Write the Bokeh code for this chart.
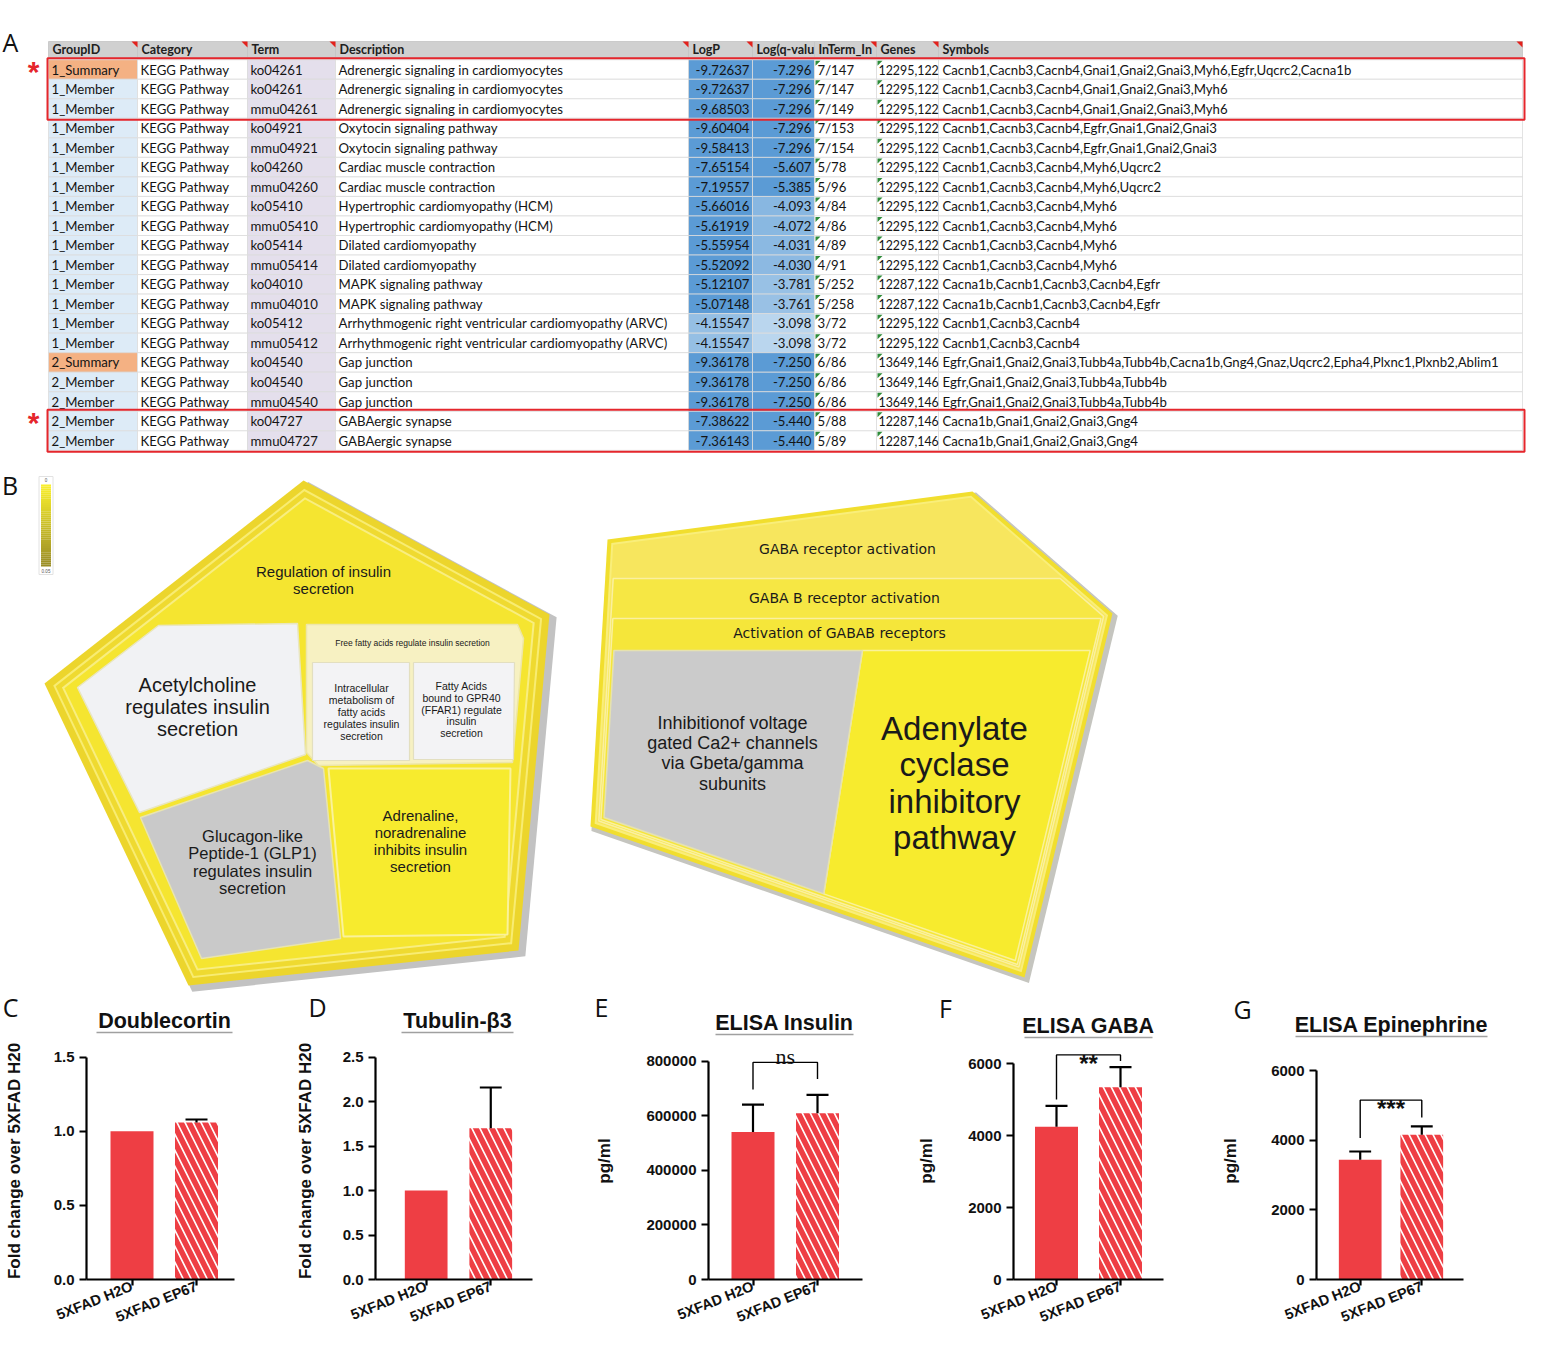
import numpy as np
from bokeh.plotting import figure
from bokeh.models import Range1d, FixedTicker, NumeralTickFormatter
from bokeh.layouts import column, row
from bokeh.embed import file_html
from bokeh.resources import INLINE
from bokeh.core.properties import value

# ======================= DATA =======================
# Panel A - enrichment table
header_labels = ["GroupID", "Category", "Term", "Description", "LogP", "Log(q-valu",
                 "InTerm_In", "Genes", "Symbols"]
group_ids = ["1_Summary"] + ["1_Member"] * 14 + ["2_Summary"] + ["2_Member"] * 4
categories = ["KEGG Pathway"] * 20
terms = ["ko04261", "ko04261", "mmu04261", "ko04921", "mmu04921", "ko04260", "mmu04260",
         "ko05410", "mmu05410", "ko05414", "mmu05414", "ko04010", "mmu04010", "ko05412",
         "mmu05412", "ko04540", "ko04540", "mmu04540", "ko04727", "mmu04727"]
descriptions = (["Adrenergic signaling in cardiomyocytes"] * 3 + ["Oxytocin signaling pathway"] * 2 +
                ["Cardiac muscle contraction"] * 2 + ["Hypertrophic cardiomyopathy (HCM)"] * 2 +
                ["Dilated cardiomyopathy"] * 2 + ["MAPK signaling pathway"] * 2 +
                ["Arrhythmogenic right ventricular cardiomyopathy (ARVC)"] * 2 +
                ["Gap junction"] * 3 + ["GABAergic synapse"] * 2)
log_p = [-9.72637, -9.72637, -9.68503, -9.60404, -9.58413, -7.65154, -7.19557, -5.66016,
         -5.61919, -5.55954, -5.52092, -5.12107, -5.07148, -4.15547, -4.15547, -9.36178,
         -9.36178, -9.36178, -7.38622, -7.36143]
log_q = [-7.296, -7.296, -7.296, -7.296, -7.296, -5.607, -5.385, -4.093, -4.072, -4.031,
         -4.030, -3.781, -3.761, -3.098, -3.098, -7.250, -7.250, -7.250, -5.440, -5.440]
in_term = ["7/147", "7/147", "7/149", "7/153", "7/154", "5/78", "5/96", "4/84", "4/86", "4/89",
           "4/91", "5/252", "5/258", "3/72", "3/72", "6/86", "6/86", "6/86", "5/88", "5/89"]
genes = (["12295,122"] * 11 + ["12287,122"] * 2 + ["12295,122"] * 2 +
         ["13649,146"] * 3 + ["12287,146"] * 2)
symbols = ["Cacnb1,Cacnb3,Cacnb4,Gnai1,Gnai2,Gnai3,Myh6,Egfr,Uqcrc2,Cacna1b",
           "Cacnb1,Cacnb3,Cacnb4,Gnai1,Gnai2,Gnai3,Myh6",
           "Cacnb1,Cacnb3,Cacnb4,Gnai1,Gnai2,Gnai3,Myh6",
           "Cacnb1,Cacnb3,Cacnb4,Egfr,Gnai1,Gnai2,Gnai3",
           "Cacnb1,Cacnb3,Cacnb4,Egfr,Gnai1,Gnai2,Gnai3",
           "Cacnb1,Cacnb3,Cacnb4,Myh6,Uqcrc2",
           "Cacnb1,Cacnb3,Cacnb4,Myh6,Uqcrc2",
           "Cacnb1,Cacnb3,Cacnb4,Myh6",
           "Cacnb1,Cacnb3,Cacnb4,Myh6",
           "Cacnb1,Cacnb3,Cacnb4,Myh6",
           "Cacnb1,Cacnb3,Cacnb4,Myh6",
           "Cacna1b,Cacnb1,Cacnb3,Cacnb4,Egfr",
           "Cacna1b,Cacnb1,Cacnb3,Cacnb4,Egfr",
           "Cacnb1,Cacnb3,Cacnb4",
           "Cacnb1,Cacnb3,Cacnb4",
           "Egfr,Gnai1,Gnai2,Gnai3,Tubb4a,Tubb4b,Cacna1b,Gng4,Gnaz,Uqcrc2,Epha4,Plxnc1,Plxnb2,Ablim1",
           "Egfr,Gnai1,Gnai2,Gnai3,Tubb4a,Tubb4b",
           "Egfr,Gnai1,Gnai2,Gnai3,Tubb4a,Tubb4b",
           "Cacna1b,Gnai1,Gnai2,Gnai3,Gng4",
           "Cacna1b,Gnai1,Gnai2,Gnai3,Gng4"]
highlight_groups = [(0, 2), (18, 19)]

# Panel B - Voronoi pathway map labels
colorbar_labels = ["0", "0.05"]
left_labels = {
    "parent": ["Regulation of insulin", "secretion"],
    "ach": ["Acetylcholine", "regulates insulin", "secretion"],
    "ffa": ["Free fatty acids regulate insulin secretion"],
    "intra": ["Intracellular", "metabolism of", "fatty acids", "regulates insulin", "secretion"],
    "gpr40": ["Fatty Acids", "bound to GPR40", "(FFAR1) regulate", "insulin", "secretion"],
    "glp1": ["Glucagon-like", "Peptide-1 (GLP1)", "regulates insulin", "secretion"],
    "adr": ["Adrenaline,", "noradrenaline", "inhibits insulin", "secretion"],
}
right_labels = {
    "gaba": ["GABA receptor activation"],
    "gabab": ["GABA B receptor activation"],
    "gababr": ["Activation of GABAB receptors"],
    "ca": ["Inhibitionof voltage", "gated Ca2+ channels", "via Gbeta/gamma", "subunits"],
    "ac": ["Adenylate", "cyclase", "inhibitory", "pathway"],
}

# Panels C-G - bar charts (mean, SD)
panel_letters = ["C", "D", "E", "F", "G"]
panel_titles = ["Doublecortin", "Tubulin-\u03b23", "ELISA Insulin", "ELISA GABA",
                "ELISA Epinephrine"]
groups = ["5XFAD H2O", "5XFAD EP67"]
dcx_mean = [1.00, 1.06]
dcx_sd = [0.0, 0.02]
tubb3_mean = [1.00, 1.70]
tubb3_sd = [0.0, 0.46]
insulin_mean = [540000, 609000]
insulin_sd = [100000, 67000]
gaba_mean = [4250, 5350]
gaba_sd = [580, 560]
epi_mean = [3440, 4160]
epi_sd = [235, 235]
# significance brackets: label, left leg end, bracket level, right leg end
insulin_sig = ("ns", 696000, 795000, 734000)
gaba_sig = ("**", 5010, 6250, 6080)
epi_sig = ("***", 4060, 5150, 4650)

# ======================= TOP FIGURE (A, B and headers of C-G) =======================
PAGE_W = 1526
PAGE_H = 1335
TOP_H = 1042
top = figure(width=PAGE_W, height=TOP_H, x_range=Range1d(0, PAGE_W),
             y_range=Range1d(TOP_H, 0), output_backend="svg", toolbar_location=None,
             min_border=0, x_axis_location=None, y_axis_location=None, title=None)
top.outline_line_color = None
top.background_fill_color = "white"
top.border_fill_color = "white"
top.grid.visible = False
top.xgrid.visible = False
top.ygrid.visible = False

TXT = "#141414"


def put_text(x, y, txt, size, font="Lato", align="left", color=TXT, style="normal",
             baseline="middle"):
    top.text(x=x, y=y, text=txt, text_font=value(font), text_font_size=f"{size}px",
             text_align=align, text_baseline=baseline, text_color=color, text_font_style=style)


def hex2rgb(h):
    h = h.lstrip("#")
    return np.array([int(h[i:i + 2], 16) for i in (0, 2, 4)], float)


def mix(c1, c2, t):
    c = hex2rgb(c1) * (1 - t) + hex2rgb(c2) * t
    return "#%02x%02x%02x" % tuple(int(round(v)) for v in c)


def blue_shade(v, dark_at, light_at):
    t = float(np.clip((v - dark_at) / (light_at - dark_at), 0, 1))
    return mix("#5B9BD5", "#C9DFF2", t)


# ---- Panel A: table ----
COL_EDGES = [48, 137, 247, 335, 688, 752, 814, 876, 938, 1522]
ROW0_Y, ROW_PITCH = 69.0, 19.53
HEADER_Y, HEADER_H = 49.0, 16.0
FS = 13.2
n_rows = len(group_ids)
row_y = [ROW0_Y + i * ROW_PITCH for i in range(n_rows)]


def cell_color(i, c):
    if c == 0:
        return "#F4B183" if "Summary" in group_ids[i] else "#DDEBF7"
    if c == 2:
        return "#E4DFEC"
    if c == 4:
        return blue_shade(log_p[i], -5.0, -3.4)
    if c == 5:
        return blue_shade(log_q[i], -5.0, -2.8)
    return "#FFFFFF"


cx, cy, cw, ccol = [], [], [], []
for i in range(n_rows):
    for c in range(9):
        l, r = COL_EDGES[c], COL_EDGES[c + 1]
        cx.append((l + r) / 2)
        cy.append(row_y[i])
        cw.append(r - l)
        ccol.append(cell_color(i, c))
top.rect(x=cx, y=cy, width=cw, height=ROW_PITCH, fill_color=ccol, line_color="#DCDCDC",
         line_width=0.8)

# header
hx = [(COL_EDGES[c] + COL_EDGES[c + 1]) / 2 for c in range(9)]
hw = [COL_EDGES[c + 1] - COL_EDGES[c] for c in range(9)]
top.rect(x=hx, y=[HEADER_Y] * 9, width=hw, height=HEADER_H, fill_color="#D0D0D0",
         line_color="#C4C4C4", line_width=0.8)
put_text([COL_EDGES[c] + 4 for c in range(9)], [HEADER_Y] * 9, header_labels, 12.5,
         style="bold", color="#202020")

# header comment markers (red) and number-as-text markers (green)
marker_edges = [137, 247, 335, 688, 752, 876, 938, 1522]
hy0 = HEADER_Y - HEADER_H / 2
top.patches([[e - 6, e, e] for e in marker_edges], [[hy0, hy0, hy0 + 6]] * len(marker_edges),
            fill_color="#E3211C", line_color=None)
gx, gy = [], []
for i in range(n_rows):
    yt = row_y[i] - ROW_PITCH / 2
    for e in (814, 876):
        gx.append([e + 1, e + 6, e + 1])
        gy.append([yt + 1, yt + 1, yt + 6])
top.patches(gx, gy, fill_color="#2E8B3A", line_color=None)

# cell texts
col_texts = [group_ids, categories, terms, descriptions, [f"{v:.5f}" for v in log_p],
             [f"{v:.3f}" for v in log_q], in_term, genes, symbols]
for c, texts in enumerate(col_texts):
    if c in (4, 5):
        put_text([COL_EDGES[c + 1] - 3] * n_rows, row_y, texts, FS, align="right")
    elif c == 7:
        put_text([COL_EDGES[c] + 2] * n_rows, row_y, texts, 12.4)
    else:
        off = 4 if c == 8 else 3
        put_text([COL_EDGES[c] + off] * n_rows, row_y, texts, FS)

# red highlight boxes and asterisks
for (r0, r1) in highlight_groups:
    yt = row_y[r0] - ROW_PITCH / 2 - 1.5
    yb = row_y[r1] + ROW_PITCH / 2 + 1.5
    top.quad(left=47, right=1524, top=yt, bottom=yb, fill_color=None, line_color="#E5262C",
             line_width=2)
    put_text([33], [row_y[r0] + 1.5], ["*"], 30, font="Liberation Sans", align="center",
             color="#E5262C", style="bold")

put_text([10], [41], ["A"], 25, font="Open Sans", align="center", color="#111")
put_text([9.5], [484], ["B"], 25, font="Open Sans", align="center", color="#111")

# ---- Panel B: colour bar ----
CB_L, CB_R, CB_T, CB_B = 40.5, 50.5, 484, 566
n_cb = 40
edges = np.linspace(CB_T, CB_B, n_cb + 1)
top.quad(left=CB_L, right=CB_R, top=edges[:-1], bottom=edges[1:],
         fill_color=[mix("#F9EF2C", "#9A8C26", k / (n_cb - 1)) for k in range(n_cb)],
         line_color=None)
top.quad(left=38.5, right=52.5, top=476, bottom=574, fill_color=None, line_color="#E2E2E2",
         line_width=1)
put_text([45.5, 45.5], [479.5, 570.5], colorbar_labels, 4.5, font="Liberation Sans",
         align="center", color="#555")


# ---- Panel B: Voronoi pathway maps ----
def poly_inset(pts, d):
    pts = np.asarray(pts, float)
    n = len(pts)
    cen = pts.mean(axis=0)
    lines = []
    for i in range(n):
        p, q = pts[i], pts[(i + 1) % n]
        dv = q - p
        L = np.hypot(*dv)
        nv = np.array([-dv[1], dv[0]]) / L
        if np.dot(cen - (p + q) / 2, nv) < 0:
            nv = -nv
        lines.append((p + d * nv, dv))
    out = []
    for i in range(n):
        p1, d1 = lines[i - 1]
        p2, d2 = lines[i]
        A = np.array([[d1[0], -d2[0]], [d1[1], -d2[1]]])
        t, _ = np.linalg.solve(A, p2 - p1)
        out.append(tuple(p1 + t * d1))
    return out


def clip_half(pts, a, b, c):
    out = []
    n = len(pts)
    for i in range(n):
        P, Q = pts[i], pts[(i + 1) % n]
        fp = a * P[0] + b * P[1] + c
        fq = a * Q[0] + b * Q[1] + c
        if fp >= 0:
            out.append(P)
        if (fp >= 0) != (fq >= 0):
            t = fp / (fp - fq)
            out.append((P[0] + t * (Q[0] - P[0]), P[1] + t * (Q[1] - P[1])))
    return out


def shift(pts, dx, dy):
    return [(x + dx, y + dy) for x, y in pts]


def draw_poly(pts, fill, line=None, lw=1.0):
    top.patch([p[0] for p in pts], [p[1] for p in pts], fill_color=fill, line_color=line,
              line_width=lw)


def draw_lines(lines, x, ys, size, font="Liberation Sans"):
    put_text([x] * len(lines), ys, lines, size, font=font, align="center", color="#1A1A1A")


# left pentagon (Regulation of insulin secretion)
PENT = [(303, 480), (549, 614), (518, 950), (188, 985), (44, 683)]
draw_poly(shift(poly_inset(PENT, -2), 5, 4), "#C2C2C2")
draw_poly(PENT, "#ECD52C")
draw_poly(poly_inset(PENT, 7), "#F8EC72")
draw_poly(poly_inset(PENT, 9), "#EFDA30")
draw_poly(poly_inset(PENT, 14), "#F8EE80")
draw_poly(poly_inset(PENT, 16), "#F5E530")

ACH = [(77, 687), (158, 625), (297, 623), (305, 754), (139, 812)]
FFA = [(306, 624), (517, 624), (523, 638), (512, 762), (318, 765), (306, 752)]
INTRA = [(312, 662), (409, 662), (409, 760), (312, 760)]
GPR40 = [(413, 662), (514, 662), (513, 759), (413, 759)]
GLP1 = [(140, 817), (307, 760), (323, 768), (340, 938), (201, 958)]
ADR = [(328, 768), (510, 768), (507, 934), (343, 936)]
draw_poly(ACH, "#F1F2F4", "#E9E6C0", 1.5)
draw_poly(FFA, "#F7F1C2", "#EDE6A8", 1.5)
draw_poly(INTRA, "#F3F3F5", "#E3DFC0", 1.2)
draw_poly(GPR40, "#F3F3F5", "#E3DFC0", 1.2)
draw_poly(GLP1, "#C9C9C9", "#E8E4B0", 1.5)
draw_poly(ADR, "#F7EB2E", "#FAF29A", 2.0)

draw_lines(left_labels["parent"], 323, [571, 588], 15)
draw_lines(left_labels["ach"], 197, [684, 706, 728], 20)
draw_lines(left_labels["ffa"], 412, [642], 8.5)
draw_lines(left_labels["intra"], 361, [687, 699, 711, 723, 735], 10.5)
draw_lines(left_labels["gpr40"], 461, [685, 697, 709, 720, 732], 10.5)
draw_lines(left_labels["glp1"], 252, [835, 852, 870, 887], 16.5)
draw_lines(left_labels["adr"], 420, [815, 832, 849, 866], 15)

# right polygon (GABA receptor activation)
RPOLY = [(607, 539), (972, 491), (1112, 613), (1024, 977), (590, 826)]
draw_poly(shift(poly_inset(RPOLY, -2), 3, 3), "#C5C5BF")
draw_poly(RPOLY, "#F1DE2E")
draw_poly(poly_inset(RPOLY, 4), "#F9EE7A")
draw_poly(poly_inset(RPOLY, 6), "#F7E65E")
draw_poly(clip_half(poly_inset(RPOLY, 8), 0, 1, -578), "#F6E744", "#FAF0A0", 1.5)
draw_poly(clip_half(poly_inset(RPOLY, 10), 0, 1, -618), "#F5E63A", "#FAF0A0", 1.5)
leaf_base = clip_half(poly_inset(RPOLY, 13), 0, 1, -650)
A_pt, B_pt = (862.0, 650.0), (823.0, 895.0)
ddx, ddy = B_pt[0] - A_pt[0], B_pt[1] - A_pt[1]
la, lb, lc = -ddy, ddx, ddy * A_pt[0] - ddx * A_pt[1]
draw_poly(clip_half(leaf_base, -la, -lb, -lc), "#F7EB2E", "#FAF29A", 1.5)
draw_poly(clip_half(leaf_base, la, lb, lc), "#CBCBCB", "#E6E2B0", 1.5)

draw_lines(right_labels["gaba"], 847, [548], 14, font="DejaVu Sans")
draw_lines(right_labels["gabab"], 844, [597], 14, font="DejaVu Sans")
draw_lines(right_labels["gababr"], 839, [632], 14, font="DejaVu Sans")
draw_lines(right_labels["ca"], 732, [722, 742, 762, 783], 18)
draw_lines(right_labels["ac"], 954, [728, 764, 801, 837], 33)

# ---- headers of panels C-G (letters, underlined titles) ----
letter_pos = [(10, 1006), (317, 1006), (601, 1006), (945, 1007), (1242, 1008)]
title_pos = [(164, 1020), (457, 1020), (784, 1022), (1088, 1025), (1391, 1024)]
uline_half = [68, 56, 69, 64, 96]
put_text([p[0] for p in letter_pos], [p[1] for p in letter_pos], panel_letters, 25,
         font="Open Sans", align="center", color="#111")
put_text([p[0] for p in title_pos], [p[1] for p in title_pos], panel_titles, 21.5,
         font="Liberation Sans", align="center", color="#111", style="bold")
top.segment(x0=[p[0] - h for p, h in zip(title_pos, uline_half)],
            y0=[p[1] + 12 for p in title_pos],
            x1=[p[0] + h for p, h in zip(title_pos, uline_half)],
            y1=[p[1] + 12 for p in title_pos], line_color="#A0A0A0", line_width=1.5)

# ======================= BAR PANELS (C-G) =======================
FIG_TOP, FIG_BOTTOM = TOP_H, PAGE_H
RED = "#EE3E44"
BAR_PX = 43
CAP_PX = 11
FONT = "Liberation Sans"


def bar_panel(ylabel, ylabel_standoff, means, sds, top_val, step, fmt, fig_left, fig_w,
              axis_x, xend, zero_y, top_y, c1, c2, sig=None):
    h = FIG_BOTTOM - FIG_TOP
    ppv = (zero_y - top_y) / top_val
    y_end = (zero_y - FIG_TOP) / ppv
    ppx = c2 - c1
    x_start = 1 - (c1 - axis_x) / ppx
    x_end = 2 + (xend - c2) / ppx

    def Y(py):
        return (zero_y - py) / ppv

    p = figure(width=fig_w, height=h, x_range=Range1d(x_start, x_end),
               y_range=Range1d(0, y_end), output_backend="svg", toolbar_location=None,
               title=None, min_border_left=axis_x - fig_left,
               min_border_right=fig_left + fig_w - xend, min_border_top=0,
               min_border_bottom=FIG_BOTTOM - zero_y)
    p.grid.visible = False
    p.outline_line_color = None

    p.yaxis.ticker = FixedTicker(ticks=[float(v) for v in np.arange(0, top_val + step / 2, step)])
    p.yaxis.bounds = (0, top_val)
    p.yaxis.formatter = NumeralTickFormatter(format=fmt)
    p.xaxis.ticker = FixedTicker(ticks=[1, 2])
    p.xaxis.major_label_overrides = {1: groups[0], 2: groups[1]}
    p.xaxis.major_label_orientation = 0.38
    for ax in (p.xaxis[0], p.yaxis[0]):
        ax.axis_line_width = 2.2
        ax.axis_line_color = "black"
        ax.major_tick_line_width = 2.2
        ax.major_tick_line_color = "black"
        ax.major_tick_out = 7
        ax.major_tick_in = 0
        ax.minor_tick_out = 0
        ax.minor_tick_in = 0
        ax.major_label_text_font = FONT
        ax.major_label_text_font_style = "bold"
        ax.major_label_text_font_size = "15px"
        ax.major_label_text_color = "#111111"
    p.xaxis.major_label_text_font_size = "14.5px"
    p.xaxis.major_label_standoff = 0
    p.xaxis.major_tick_out = 6
    p.yaxis.axis_label = ylabel
    p.yaxis.axis_label_text_font = FONT
    p.yaxis.axis_label_text_font_style = "bold"
    p.yaxis.axis_label_text_font_size = "17px"
    p.yaxis.axis_label_text_color = "#111111"
    p.yaxis.axis_label_standoff = ylabel_standoff

    bw = BAR_PX / ppx
    p.vbar(x=[1], top=[means[0]], bottom=0, width=bw, fill_color=RED, line_color=None)
    p.vbar(x=[2], top=[means[1]], bottom=0, width=bw, fill_color="white", line_color=None,
           hatch_pattern="\\", hatch_color=RED, hatch_weight=5.5, hatch_scale=16)

    ex = [i + 1 for i in range(2) if sds[i] > 0]
    em = [means[i] for i in range(2) if sds[i] > 0]
    et = [means[i] + sds[i] for i in range(2) if sds[i] > 0]
    cap = CAP_PX / ppx
    if ex:
        p.segment(x0=ex, y0=em, x1=ex, y1=et, line_color="black", line_width=2.2)
        p.segment(x0=[x - cap for x in ex], y0=et, x1=[x + cap for x in ex], y1=et,
                  line_color="black", line_width=2.2)

    if sig is not None:
        txt, yl, yb, yr = sig
        p.line(x=[1, 1, 2, 2], y=[yl, yb, yb, yr], line_color="black", line_width=1.4)
        bpx = zero_y - yb * ppv
        if txt == "ns":
            p.text(x=[1.5], y=[Y(bpx - 6)], text=[txt], text_font=value("Liberation Serif"),
                   text_font_size="22px", text_align="center", text_baseline="alphabetic",
                   text_color="#111")
        else:
            p.text(x=[1.5], y=[Y(bpx + 9)], text=[txt], text_font=value(FONT),
                   text_font_size="24px", text_font_style="bold", text_align="center",
                   text_baseline="alphabetic", text_color="#111")
    return p


pc = bar_panel("Fold change over 5XFAD H20", 27, dcx_mean, dcx_sd, 1.5, 0.5, "0.0",
               0, 292, 86, 234, 1283, 1057, 131.5, 196)
pd_ = bar_panel("Fold change over 5XFAD H20", 25, tubb3_mean, tubb3_sd, 2.5, 0.5, "0.0",
                292, 298, 374, 532, 1283, 1057, 425, 490)
pe = bar_panel("pg/ml", 29, insulin_mean, insulin_sd, 800000, 200000, "0",
               590, 322, 708, 862, 1285, 1061, 752.5, 817, sig=insulin_sig)
pf = bar_panel("pg/ml", 29, gaba_mean, gaba_sd, 6000, 2000, "0",
               912, 306, 1013, 1163, 1286, 1064, 1056, 1120, sig=gaba_sig)
pg = bar_panel("pg/ml", 28, epi_mean, epi_sd, 6000, 2000, "0",
               1218, 308, 1315, 1463, 1287, 1071, 1359, 1421, sig=epi_sig)

layout = column(top, row(pc, pd_, pe, pf, pg))
open("out.html", "w").write(file_html(layout, INLINE, "Figure"))
